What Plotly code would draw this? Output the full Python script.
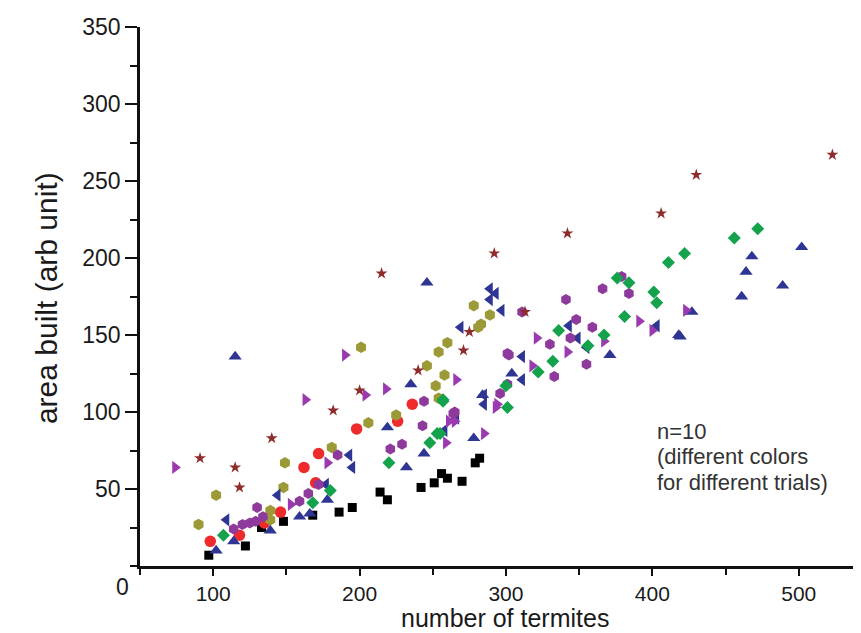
import plotly.graph_objects as go

# ---- data ----
black_x = [97, 122, 133, 148, 168, 186, 195, 214, 219, 242, 251, 256, 260, 270, 279, 282]
black_y = [7, 13, 25, 29, 33, 35, 38, 48, 43, 51, 54, 60, 57, 55, 67, 70]

red_x = [98, 118, 135, 146, 162, 170, 172, 198, 226, 236]
red_y = [16, 20, 28, 35, 64, 54, 73, 89, 94, 105]

olive_x = [90, 102, 139, 139, 148, 149, 181, 201, 206, 225, 246, 252, 254, 254, 258, 260, 281, 283, 278, 289]
olive_y = [27, 46, 30, 36, 51, 67, 77, 142, 93, 98, 130, 117, 139, 109, 124, 145, 155, 157, 169, 163]

star_x = [91, 115, 118, 140, 182, 200, 215, 240, 271, 275, 292, 313, 342, 406, 430, 523]
star_y = [70, 64, 51, 83, 101, 114, 190, 127, 140, 152, 203, 165, 216, 229, 254, 267]

blue_up_x = [102, 114, 115, 139, 159, 166, 178, 219, 232, 235, 244, 246, 278, 284, 304, 371, 418, 419, 427, 461, 464, 468, 489, 502]
blue_up_y = [10, 16, 136, 23, 32, 34, 43, 90, 64, 118, 73, 184, 83, 111, 125, 137, 150, 149, 165, 175, 191, 201, 182, 207]

blue_left_x = [109, 144, 177, 193, 195, 258, 266, 269, 285, 285, 289, 289, 293, 297, 311, 311, 343, 349, 355, 403]
blue_left_y = [30, 46, 53, 72, 64, 88, 96, 155, 111, 105, 180, 173, 177, 166, 136, 121, 156, 148, 142, 156]

purple_right_x = [74, 153, 163, 178, 190, 204, 218, 259, 261, 265, 266, 285, 293, 294, 318, 321, 342, 367, 391, 400, 423]
purple_right_y = [64, 40, 108, 67, 137, 111, 115, 80, 94, 94, 121, 86, 103, 105, 130, 148, 139, 146, 159, 153, 166]

purple_hex_x = [114, 120, 125, 129, 130, 134, 159, 165, 172, 185, 221, 229, 243, 244, 264, 265, 296, 301, 302, 301, 311, 330, 333, 341, 344, 348, 355, 359, 366, 379, 384]
purple_hex_y = [24, 27, 28, 29, 38, 32, 42, 47, 53, 72, 76, 79, 91, 107, 99, 100, 112, 138, 137, 118, 165, 144, 123, 173, 148, 160, 131, 155, 180, 188, 177]

green_x = [107, 168, 180, 220, 248, 253, 255, 257, 257, 300, 301, 322, 332, 336, 356, 367, 376, 381, 384, 401, 403, 411, 422, 456, 472]
green_y = [20, 41, 49, 67, 80, 86, 86, 107, 108, 117, 103, 126, 133, 153, 143, 150, 187, 162, 184, 178, 171, 197, 203, 213, 219]

x_ticks = [100, 200, 300, 400, 500]
y_ticks = [50, 100, 150, 200, 250, 300, 350]

x_title = "number of termites"
y_title = "area built (arb unit)"
note_lines = ["n=10", "(different colors", "for different trials)"]

series = [
    (black_x, black_y, "square", "#000000", 9),
    (red_x, red_y, "circle", "#ee2a2a", 11.5),
    (olive_x, olive_y, "hexagon", "#9c9a36", 11.5),
    (blue_up_x, blue_up_y, "triangle-up", "#2e3592", 11.5),
    (blue_left_x, blue_left_y, "triangle-left", "#2e3592", 11.5),
    (purple_right_x, purple_right_y, "triangle-right", "#9b3ab0", 11.5),
    (purple_hex_x, purple_hex_y, "hexagon", "#8e3a9c", 11),
    (green_x, green_y, "diamond", "#14a24c", 10),
    (star_x, star_y, "star", "#8e2c2c", 9),
]

fig = go.Figure()
for xs, ys, sym, col, sz in series:
    fig.add_trace(go.Scatter(
        x=xs, y=ys, mode="markers",
        marker=dict(symbol=sym, color=col, size=sz, line=dict(width=0)),
        showlegend=False, hoverinfo="x+y"))

font_main = "Liberation Sans, Arial, sans-serif"
txt = "#1a1a1a"

fig.update_layout(
    width=861, height=633,
    margin=dict(l=132, r=0, t=19, b=75),
    paper_bgcolor="white", plot_bgcolor="white",
    font=dict(family=font_main, color=txt),
    xaxis=dict(
        range=[50, 548], showgrid=False, zeroline=False, automargin=False,
        showline=True, linecolor="#111", linewidth=2.5,
        ticks="outside", ticklen=7, tickwidth=2, tickcolor="#111",
        tickvals=x_ticks, ticktext=[str(v) for v in x_ticks],
        tickfont=dict(size=21, family=font_main, color=txt),
        minor=dict(dtick=50, tick0=0, ticklen=6, tickwidth=2, tickcolor="#111", ticks="outside", showgrid=False),
    ),
    yaxis=dict(
        range=[0, 350], showgrid=False, zeroline=False, automargin=False,
        showline=True, linecolor="#111", linewidth=2.5,
        ticks="outside", ticklen=12, tickwidth=2, tickcolor="#111",
        tickvals=y_ticks, ticktext=[str(v) for v in y_ticks],
        tickfont=dict(size=23, family=font_main, color=txt),
        minor=dict(dtick=25, tick0=0, ticklen=7, tickwidth=2, tickcolor="#111", ticks="outside", showgrid=False),
    ),
)

# axis titles
fig.add_annotation(x=0.5007, y=-0.097, xref="paper", yref="paper", text=x_title,
                   showarrow=False, xanchor="center", yanchor="middle", borderpad=0,
                   font=dict(size=25, family=font_main, color=txt))
fig.add_annotation(x=-0.129, y=0.497, xref="paper", yref="paper", text=y_title,
                   showarrow=False, xanchor="center", yanchor="middle", textangle=-90,
                   font=dict(size=30, family=font_main, color=txt))

# origin label
fig.add_annotation(x=-0.024, y=-0.039, xref="paper", yref="paper", text="0",
                   showarrow=False, font=dict(size=23, family=font_main, color=txt),
                   xanchor="center", yanchor="middle")

# note text, one line per annotation
note_y = [0.25, 0.2035, 0.1545]
for line, yy in zip(note_lines, note_y):
    fig.add_annotation(x=0.706, y=yy, xref="paper", yref="paper",
                       text=line, align="left", showarrow=False,
                       xanchor="left", yanchor="middle",
                       font=dict(size=22, family=font_main, color="#333333"))

fig.write_html("out.html")
